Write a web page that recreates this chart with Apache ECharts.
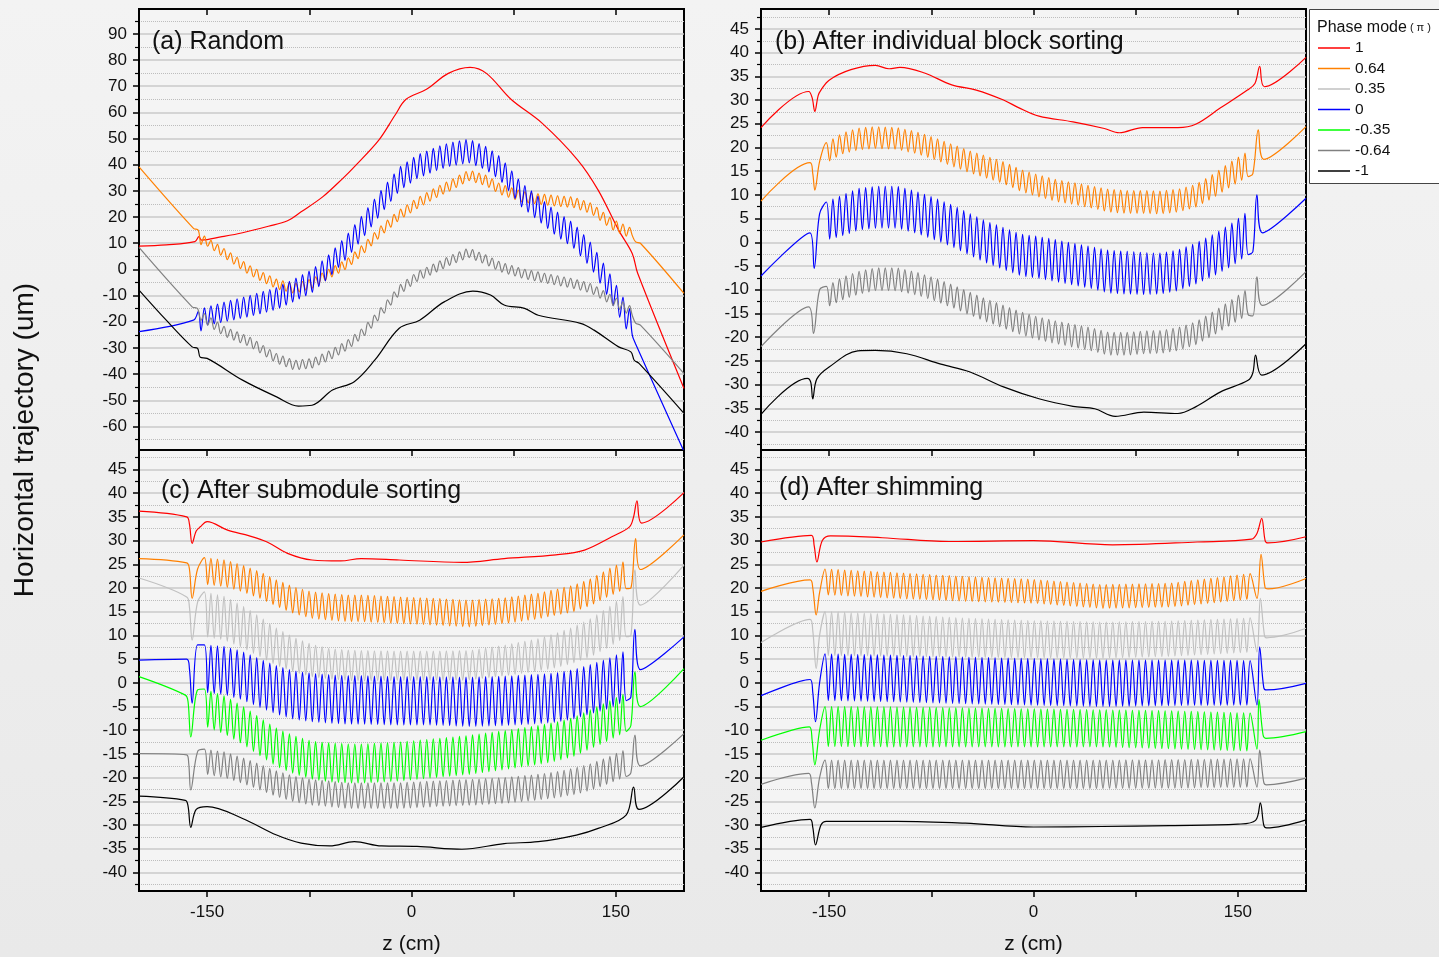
<!DOCTYPE html>
<html>
<head>
<meta charset="utf-8">
<script src="https://cdn.jsdelivr.net/npm/echarts@6/dist/echarts.min.js"></script>
<style>
    html, body { margin: 0; padding: 0; background: #ededed; }
    #chart { width: 1439px; height: 957px; }
</style>
</head>
<body>
<div id="chart"></div>
<script>
// tick labels
const zTicks = [-150, -75, 0, 75, 150];
const zLabels = [-150, 0, 150];
const aMajor = [-60, -50, -40, -30, -20, -10, 0, 10, 20, 30, 40, 50, 60, 70, 80, 90];
const aMinor = [-65, -55, -45, -35, -25, -15, -5, 5, 15, 25, 35, 45, 55, 65, 75, 85, 95];
const bMajor = [-40, -35, -30, -25, -20, -15, -10, -5, 0, 5, 10, 15, 20, 25, 30, 35, 40, 45];
const bMinor = [-42.5, -37.5, -32.5, -27.5, -22.5, -17.5, -12.5, -7.5, -2.5, 2.5, 7.5, 12.5, 17.5, 22.5, 27.5, 32.5, 37.5, 42.5, 47.5];
const phaseNames = ['1', '0.64', '0.35', '0', '-0.35', '-0.64', '-1'];

// undulator period (cm): the oscillating trajectories have one wiggle per period
const period = 4.8;

// ---- (a) Random ----
const aRed = [[-200, 8.9], [-180, 9.4], [-159, 10.6], [-156, 12.5], [-154, 11.2], [-140, 12.4], [-124, 14], [-105, 16.5], [-91, 18.6], [-81, 22], [-65, 27.8], [-50, 35], [-42, 39.2], [-24, 49.4], [-12, 59], [-4, 65], [11, 68.8], [27, 74.9], [43, 77.2], [55, 74.9], [73, 65], [96, 55.8], [122, 41.8], [137, 30.3], [152, 15], [162, 6.1], [166, -1.5], [200, -45.5]];
const aBlack = [[-200, -7.9], [-180, -19.4], [-161, -29.6], [-157, -30.2], [-155, -33.6], [-150, -34], [-124, -42.3], [-99, -48.7], [-83, -52.2], [-73, -51.9], [-58, -46.1], [-42, -42.9], [-27, -34.7], [-9, -22.5], [6, -19.4], [24, -12.4], [45, -8.3], [58, -9.8], [68, -13.6], [83, -14.9], [93, -17.5], [124, -20.6], [134, -23.2], [152, -29.6], [161, -31.5], [163.5, -34.7], [167, -35.9], [200, -55]];
// z where the envelope (centre, half amplitude) of the wiggling curves was read
const aKnotZ = [-152, -137, -119, -99, -86, -73, -60, -47, -35, -22, -9, 4, 19, 29, 42, 55, 65, 81, 93, 106, 119, 132, 147, 160];
const aOrangeIn = [[-200, 39.2], [-160, 15.7], [-156.5, 15], [-154.5, 9.5]];
const aOrangeBand = [[11.2, 1.5], [6.1, 1.7], [-0.3, 1.8], [-5.6, 1.8], [-7.3, 1.8], [-5.4, 1.8], [-1.5, 1.8], [2.3, 1.8], [8, 1.9], [15, 1.9], [20.8, 1.9], [25.2, 2], [29.7, 2], [32.2, 2], [36, 2], [33.9, 2], [30.7, 2], [27.8, 2], [26.9, 2], [26.2, 2], [25.6, 2], [23.3, 2], [17.3, 2], [14.1, 2]];
const aOrangeOut = [[162, 13], [164.5, 10.5], [168, 10], [200, -9.2]];
const aBlueIn = [[-200, -23.8], [-160, -19.4], [-156.5, -16], [-154.5, -23.5]];
const aBlueBand = [[-18.1, 3.4], [-16.2, 3.8], [-14, 4], [-11.1, 4.2], [-7.9, 4.3], [-4.5, 4.4], [1.5, 4.4], [9, 4.5], [17, 4.5], [26, 4.5], [34.5, 4.5], [39.2, 4.5], [42.4, 4.5], [44, 4.5], [45.3, 4.5], [42.4, 4.5], [38.6, 4.5], [28.4, 4.6], [23.3, 4.6], [17.6, 4.7], [12.9, 4.8], [5.2, 4.8], [-7.9, 5], [-20, 5]];
const aBlueOut = [[162, -25], [164.5, -28.5], [199.5, -69]];
const aGrayIn = [[-200, 8.4], [-161, -14.3], [-157, -15], [-154.5, -19.5]];
const aGrayBand = [[-18.7, 1.8], [-23.8, 1.8], [-27.6, 1.8], [-34, 1.8], [-36.6, 1.8], [-35.9, 1.8], [-32.8, 1.8], [-28.9, 1.8], [-23.8, 1.8], [-16.2, 1.8], [-7.9, 1.8], [-2.8, 1.8], [1, 1.8], [3.6, 1.8], [6.4, 1.8], [3.6, 1.8], [1, 1.8], [-1.5, 1.8], [-2.8, 1.8], [-4.1, 1.8], [-5.4, 1.8], [-7.3, 1.8], [-11.7, 1.8], [-15.6, 1.8]];
const aGrayOut = [[162, -17.5], [164.5, -20.5], [168, -21.3], [200, -39.8]];

// ---- (b) After individual block sorting ----
const bRed = [[-200, 24.2], [-165, 31.8], [-162.5, 30.5], [-160.5, 27.6], [-158, 31], [-156, 32.1], [-150, 34.2], [-134, 36.4], [-116, 37.3], [-106, 36.6], [-98, 36.9], [-80, 35.7], [-60, 33.2], [-42, 32.1], [-22, 30], [-11, 28.4], [4, 26.6], [29, 25.4], [52, 24], [63, 23.1], [80, 24.2], [106, 24.2], [119, 24.9], [137, 28.3], [157, 32.1], [162.5, 33.5], [166, 37.1], [169.5, 32.8], [200, 39]];
const bBlack = [[-200, -36.3], [-166, -28.7], [-163.5, -29.5], [-162, -33], [-159, -28.8], [-150, -26.3], [-129, -22.9], [-116, -22.8], [-93, -23.5], [-68, -25.7], [-47, -27.3], [-22, -30.5], [4, -33], [29, -34.6], [45, -35.1], [60, -36.7], [81, -35.8], [106, -36.1], [119, -34.7], [137, -31.6], [157.5, -29.1], [161, -27.5], [163, -23.8], [167.5, -28], [200, -21.4]];
const bKnotZ = [-152, -140, -128, -116, -100, -86, -73, -60, -47, -35, -22, -9, 4, 17, 29, 42, 55, 68, 81, 93, 106, 119, 132, 145, 158];
const bOrangeIn = [[-200, 8.7], [-164, 16.8], [-162, 14.5], [-160.5, 11], [-157, 17]];
const bOrangeBand = [[18.9, 2.1], [20.9, 2.2], [21.8, 2.3], [22.1, 2.3], [21.9, 2.3], [21, 2.3], [19.8, 2.3], [18.4, 2.3], [17, 2.3], [15.9, 2.3], [14.7, 2.3], [13, 2.3], [11.9, 2.3], [10.9, 2.3], [10.3, 2.3], [9.6, 2.3], [8.8, 2.4], [8.5, 2.4], [8.5, 2.4], [8.4, 2.4], [8.8, 2.4], [9.8, 2.4], [11.9, 2.5], [14.4, 2.6], [16.6, 2.7]];
const bOrangeOut = [[161, 14.5], [165, 23.7], [169, 17.5], [200, 24.4]];
const bBlueIn = [[-200, -7.1], [-164, 2], [-161, -5.5], [-157, 6]];
const bBlueBand = [[4.5, 4], [5.7, 4.3], [7, 4.4], [7.4, 4.4], [7.4, 4.4], [6.3, 4.4], [5, 4.4], [3.5, 4.4], [1.7, 4.4], [0.1, 4.4], [-1.3, 4.4], [-2.7, 4.4], [-3.2, 4.4], [-3.9, 4.4], [-4.6, 4.4], [-5.3, 4.4], [-6.2, 4.5], [-6.4, 4.5], [-6.6, 4.4], [-6.6, 4.3], [-5.9, 4.3], [-4.5, 4.3], [-2.7, 4.4], [-0.6, 4.5], [2.1, 4.6]];
const bBlueOut = [[161, -2], [164, 10], [168, 2], [200, 9.3]];
const bGrayIn = [[-200, -22], [-165, -13.6], [-161.5, -19.2], [-157, -10]];
const bGrayBand = [[-11.5, 2.2], [-9.7, 2.4], [-8.5, 2.4], [-7.8, 2.4], [-7.8, 2.4], [-8.7, 2.4], [-9.9, 2.4], [-11.3, 2.4], [-12.9, 2.4], [-14.3, 2.4], [-15.7, 2.4], [-17.1, 2.4], [-18.2, 2.4], [-19, 2.4], [-19.7, 2.4], [-20.4, 2.4], [-21.4, 2.4], [-21.4, 2.4], [-21.1, 2.4], [-21, 2.4], [-20.4, 2.4], [-19.2, 2.4], [-17.1, 2.5], [-14.8, 2.6], [-12.4, 2.8]];
const bGrayOut = [[161, -15.5], [164, -7.3], [168, -13.3], [200, -6.2]];

// ---- (c) After submodule sorting ----
const cRed = [[-200, 36.2], [-165, 35], [-163, 33.5], [-161, 29.4], [-158, 32], [-155, 32.9], [-150, 34], [-135, 32.2], [-119, 31], [-106, 29.7], [-91, 27.3], [-73, 25.9], [-52, 25.7], [-37, 26.2], [-9, 25.9], [37, 25.4], [68, 26.2], [106, 27], [127, 28], [147, 30.8], [160, 32.9], [163, 35], [165.5, 38.4], [169, 33.7], [200, 40.1]];
const cBlack = [[-200, -23.9], [-166, -24.8], [-164, -26], [-162, -30.5], [-158, -26.7], [-150, -26.1], [-124, -28.6], [-99, -32.1], [-81, -33.8], [-60, -34.4], [-42, -33.5], [-22, -34.4], [4, -34.5], [37, -35.1], [68, -33.9], [93, -33.5], [121, -32.1], [137, -30.7], [157.5, -27.9], [163, -22], [167, -26.7], [200, -19.8]];
const cKnotZ = [-152, -137, -124, -111, -99, -86, -73, -60, -47, -35, -9, 17, 42, 68, 93, 106, 119, 132, 145, 158];
const cOrangeIn = [[-200, 26.2], [-165, 25.3], [-163, 24], [-161, 17.8], [-157, 24]];
const cOrangeBand = [[23.6, 2.8], [23.1, 2.8], [22, 2.8], [20.6, 2.8], [18.9, 2.8], [17.4, 2.8], [16.4, 2.8], [16, 2.8], [15.7, 2.8], [15.7, 2.8], [15.3, 2.8], [15, 2.8], [14.6, 2.8], [15.2, 2.7], [16.2, 2.7], [17, 2.7], [17.8, 2.8], [19.2, 2.8], [21.2, 2.9], [22.9, 3]];
const cOrangeOut = [[161, 20], [164.5, 30.4], [168, 23.9], [200, 31.2]];
const cLgrayIn = [[-200, 22.1], [-165, 18.1], [-163, 16], [-161, 9], [-157, 17]];
const cLgrayBand = [[14.5, 4.7], [13.6, 4.6], [11.8, 4.4], [9.7, 4.2], [7.6, 3.9], [5.9, 3.6], [4.7, 3.4], [4, 3.2], [3.7, 3.2], [3.6, 3.2], [3.6, 3.1], [3.6, 3.1], [3.7, 3.1], [4.7, 3.2], [5.9, 3.4], [6.8, 3.6], [8, 3.8], [9.6, 4], [11.8, 4.2], [14.3, 4.5]];
const cLgrayOut = [[161, 10], [164, 23.8], [168, 16.4], [200, 24.8]];
const cBlueIn = [[-200, 4.8], [-165, 5], [-163, 3], [-161, -4.3], [-157, 8]];
const cBlueBand = [[3, 5], [2.6, 5.1], [1.5, 5.1], [-0.1, 5.1], [-1.5, 5.1], [-2.6, 5.1], [-3.1, 5.1], [-3.4, 5.1], [-3.6, 5.1], [-3.6, 5.1], [-3.8, 5.1], [-3.8, 5.1], [-4, 5.2], [-3.8, 5.2], [-3.4, 5.2], [-3.1, 5.2], [-2.4, 5.2], [-1.3, 5.2], [-0.1, 5.3], [1.6, 5.3]];
const cBlueOut = [[161, -3], [164, 11.3], [168, 2.8], [200, 9.7]];
const cGreenIn = [[-200, 1.3], [-166, -2.6], [-164, -4], [-162, -11.4], [-157, -1.5]];
const cGreenBand = [[-5.2, 3.9], [-6.8, 4], [-8.9, 4], [-11.4, 4], [-13.6, 4], [-15.2, 4], [-16.3, 4], [-16.8, 4.1], [-17, 4.1], [-17, 4.1], [-16.6, 4.1], [-15.9, 4.1], [-15.2, 4.1], [-14.2, 4.1], [-13.1, 4.1], [-12.4, 4.1], [-11.4, 4.1], [-9.7, 4.1], [-8, 4.1], [-6.1, 4.1]];
const cGreenOut = [[161, -9], [164, 2.3], [168, -5], [200, 3]];
const cGrayIn = [[-200, -14.9], [-165, -15.2], [-163.5, -17], [-162, -22.6], [-157, -14.5]];
const cGrayBand = [[-16.6, 2.6], [-17.3, 2.7], [-18.5, 2.7], [-19.9, 2.7], [-21.3, 2.7], [-22.4, 2.7], [-23.1, 2.7], [-23.4, 2.7], [-23.8, 2.7], [-23.8, 2.7], [-23.8, 2.7], [-23.4, 2.7], [-23.1, 2.7], [-22.7, 2.7], [-22, 2.7], [-21.5, 2.7], [-20.8, 2.8], [-19.8, 2.8], [-18.4, 2.8], [-16.8, 2.9]];
const cGrayOut = [[161, -19], [164, -11], [168, -17.5], [200, -10.7]];

// ---- (d) After shimming ----
const dRed = [[-200, 29.7], [-163, 31.1], [-161, 29], [-159, 25.5], [-155, 30], [-149, 31], [-111, 30.6], [-62, 29.8], [0, 30], [58, 29.1], [120, 29.7], [160, 30.3], [164, 31.5], [167.5, 34.7], [170, 30], [172, 29.5], [200, 30.8]];
const dBlack = [[-200, -30.5], [-164, -28.8], [-162, -30.5], [-160, -34.2], [-156, -30], [-152, -29.2], [-100, -29.2], [-50, -29.6], [0, -30.4], [50, -30.3], [100, -30.1], [150, -29.8], [163, -29], [166.5, -25.3], [169, -30], [171, -30.6], [200, -28.9]];
const dKnotZ = [-153, -100, -50, 0, 50, 100, 161];
const dOrangeIn = [[-200, 19.3], [-164, 21.7], [-162, 20], [-159.5, 14.3], [-157, 19]];
const dOrangeBand = [[21.3, 2.7], [20.5, 2.7], [19.8, 2.6], [19.3, 2.5], [18.2, 2.5], [18.5, 2.5], [20.4, 2.7]];
const dOrangeOut = [[164, 17.8], [167, 27.1], [170, 20], [172, 19.8], [200, 22]];
const dLgrayIn = [[-200, 8.5], [-164, 13.4], [-162, 11], [-159.5, 3], [-157, 10]];
const dLgrayBand = [[10.4, 4.6], [10, 4.4], [9.5, 4.1], [9.2, 3.9], [9, 3.8], [9.3, 3.7], [10.1, 3.6]];
const dLgrayOut = [[164, 6.5], [166.5, 17.8], [169.5, 10], [171, 9.5], [200, 11.5]];
const dBlueIn = [[-200, -2.7], [-164, 0.7], [-162, -2], [-160, -8.2], [-157, 0]];
const dBlueBand = [[1.2, 4.9], [0.9, 4.9], [0.5, 4.9], [0.2, 4.9], [-0.1, 4.9], [0, 4.8], [0, 4.7]];
const dBlueOut = [[164, -4.7], [166, 7.6], [169, -1], [171, -1.5], [200, -0.1]];
const dGreenIn = [[-200, -12.1], [-164.5, -9.3], [-162.5, -12], [-160.5, -17.3], [-157, -10]];
const dGreenBand = [[-9.2, 4.2], [-9.3, 4.2], [-9.4, 4.1], [-9.5, 4], [-9.6, 3.9], [-9.9, 4], [-10.4, 4]];
const dGreenOut = [[164, -14], [165.5, -3.5], [168.5, -11], [170.5, -11.7], [200, -10.3]];
const dGrayIn = [[-200, -21.4], [-165, -19.1], [-163, -21], [-160.5, -26.4], [-157, -20]];
const dGrayBand = [[-19.3, 3], [-19.3, 3], [-19.3, 3], [-19.3, 3], [-19.3, 3], [-19.2, 3], [-19, 3]];
const dGrayOut = [[164, -22], [166, -14.2], [169, -21], [171, -21.5], [200, -20.1]];


const FONT = "'Liberation Sans', Arial, sans-serif";
const phaseColors = {
    '1': '#ff0000', '0.64': '#ff8000', '0.35': '#c0c0c0', '0': '#0000ff',
    '-0.35': '#00ff00', '-0.64': '#808080', '-1': '#000000'
};

// peaks and troughs, one each half period, taken from the read envelope
function wiggle(knotZ, band)
{
    let pts = [];
    let z0 = knotZ[0], z1 = knotZ[knotZ.length - 1];
    for (let k = 0; z0 + k * period / 2 <= z1 + 1e-9; k++)
    {
        let z = z0 + k * period / 2;
        let i = 0;
        while (i < knotZ.length - 2 && z > knotZ[i + 1]) i++;
        let t = (z - knotZ[i]) / (knotZ[i + 1] - knotZ[i]);
        let mid = band[i][0] + t * (band[i + 1][0] - band[i][0]);
        let amp = band[i][1] + t * (band[i + 1][1] - band[i][1]);
        pts.push([z, k % 2 === 0 ? mid + amp : mid - amp]);
    }
    return pts;
}

function curve(pre, knotZ, band, post)
{
    return pre.concat(wiggle(knotZ, band), post);
}

const panels = [
    {
        title: '(a) Random', left: 139, top: 9, min: -69, max: 99.5, major: aMajor, minor: aMinor,
        titleX: 152, titleY: 42, labels: false,
        curves: [
            ['1', aRed],
            ['0.64', curve(aOrangeIn, aKnotZ, aOrangeBand, aOrangeOut)],
            ['0', curve(aBlueIn, aKnotZ, aBlueBand, aBlueOut)],
            ['-0.64', curve(aGrayIn, aKnotZ, aGrayBand, aGrayOut)],
            ['-1', aBlack]
        ]
    },
    {
        title: '(b) After individual block sorting', left: 761, top: 9, min: -43.8, max: 49.2, major: bMajor, minor: bMinor,
        titleX: 775, titleY: 42, labels: false,
        curves: [
            ['1', bRed],
            ['0.64', curve(bOrangeIn, bKnotZ, bOrangeBand, bOrangeOut)],
            ['0', curve(bBlueIn, bKnotZ, bBlueBand, bBlueOut)],
            ['-0.64', curve(bGrayIn, bKnotZ, bGrayBand, bGrayOut)],
            ['-1', bBlack]
        ]
    },
    {
        title: '(c) After submodule sorting', left: 139, top: 450, min: -43.9, max: 49.1, major: bMajor, minor: bMinor,
        titleX: 161, titleY: 491, labels: true,
        curves: [
            ['1', cRed],
            ['0.64', curve(cOrangeIn, cKnotZ, cOrangeBand, cOrangeOut)],
            ['0.35', curve(cLgrayIn, cKnotZ, cLgrayBand, cLgrayOut)],
            ['0', curve(cBlueIn, cKnotZ, cBlueBand, cBlueOut)],
            ['-0.35', curve(cGreenIn, cKnotZ, cGreenBand, cGreenOut)],
            ['-0.64', curve(cGrayIn, cKnotZ, cGrayBand, cGrayOut)],
            ['-1', cBlack]
        ]
    },
    {
        title: '(d) After shimming', left: 761, top: 450, min: -43.9, max: 49.1, major: bMajor, minor: bMinor,
        titleX: 779, titleY: 488, labels: true,
        curves: [
            ['1', dRed],
            ['0.64', curve(dOrangeIn, dKnotZ, dOrangeBand, dOrangeOut)],
            ['0.35', curve(dLgrayIn, dKnotZ, dLgrayBand, dLgrayOut)],
            ['0', curve(dBlueIn, dKnotZ, dBlueBand, dBlueOut)],
            ['-0.35', curve(dGreenIn, dKnotZ, dGreenBand, dGreenOut)],
            ['-0.64', curve(dGrayIn, dKnotZ, dGrayBand, dGrayOut)],
            ['-1', dBlack]
        ]
    }
];

let grid = [], xAxis = [], yAxis = [], series = [];
let graphic = [];

panels.forEach(function (p, i)
{
    grid.push({
        left: p.left, top: p.top, width: 545, height: 441,
        show: true, backgroundColor: '#f4f4f4', borderColor: '#000', borderWidth: 2
    });
    // bottom axis
    xAxis.push({
        type: 'value', gridIndex: i, position: 'bottom', min: -200, max: 200,
        axisLine: {onZero: false, lineStyle: {color: '#000', width: 2}},
        axisTick: {show: p.labels, customValues: zTicks, length: 6, lineStyle: {color: '#000', width: 1.5}},
        axisLabel: {show: p.labels, customValues: zLabels, margin: 13, fontSize: 17, color: '#111', fontFamily: FONT},
        splitLine: {show: false},
        name: p.labels ? 'z (cm)' : '', nameLocation: 'middle', nameGap: 43,
        nameTextStyle: {fontSize: 21, color: '#111', fontFamily: FONT}
    });
    yAxis.push({
        type: 'value', gridIndex: i, position: 'left', min: p.min, max: p.max,
        axisLine: {onZero: false, lineStyle: {color: '#000', width: 2}},
        axisTick: {customValues: p.major, length: 6, lineStyle: {color: '#000', width: 1.5}},
        axisLabel: {customValues: p.major, margin: 12, fontSize: 17, color: '#111', fontFamily: FONT},
        splitLine: {show: true, lineStyle: {color: '#cacaca', width: 1.5}}
    });
    graphic.push({
        type: 'text', x: p.titleX, y: p.titleY, z: 50,
        style: {text: p.title, fontSize: 25, fontFamily: FONT, fill: '#111', align: 'left', verticalAlign: 'middle'}
    });
});

panels.forEach(function (p, i)
{
    // top axis, ticks only
    xAxis.push({
        type: 'value', gridIndex: i, position: 'top', min: -200, max: 200,
        axisLine: {onZero: false, lineStyle: {color: '#000', width: 2}},
        axisTick: {inside: true, customValues: zTicks, length: 6, lineStyle: {color: '#000', width: 1.5}},
        axisLabel: {show: false},
        splitLine: {show: false}
    });
    // minor ticks and dotted grid lines
    yAxis.push({
        type: 'value', gridIndex: i, position: 'left', min: p.min, max: p.max,
        axisLine: {show: false, onZero: false},
        axisTick: {customValues: p.minor, length: 4, lineStyle: {color: '#000', width: 1.2}},
        axisLabel: {show: false},
        splitLine: {show: true, lineStyle: {color: '#bdbdbd', width: 1, type: 'dotted'}}
    });
});

panels.forEach(function (p, i)
{
    p.curves.forEach(function (c)
    {
        series.push({
            name: c[0], type: 'line', xAxisIndex: i, yAxisIndex: i,
            data: c[1], showSymbol: false, symbol: 'none', smooth: 0.35,
            color: phaseColors[c[0]],
            lineStyle: {color: phaseColors[c[0]], width: 1.2},
            itemStyle: {color: phaseColors[c[0]]},
            z: 3, silent: true
        });
    });
});

graphic.push(
    {
        type: 'rect', z: 1,
        shape: {x: 1309.5, y: 9.5, width: 140, height: 174},
        style: {fill: '#ffffff', stroke: '#444', lineWidth: 1}
    },
    {
        type: 'text', x: 1317, y: 28, z: 50,
        style: {
            text: '{a|Phase mode}{b| ( π )}', fontFamily: FONT, fill: '#111', verticalAlign: 'middle',
            rich: {a: {fontSize: 16, fontFamily: FONT}, b: {fontSize: 11, fontFamily: FONT}}
        }
    },
    {
        type: 'text', x: 25, y: 440, rotation: Math.PI / 2, z: 50,
        style: {
            text: 'Horizontal trajectory (um)', fontSize: 28, fontFamily: FONT, fill: '#111',
            align: 'center', verticalAlign: 'middle'
        }
    }
);

let myChart = echarts.init(document.getElementById('chart'));

let option = {
    animation: false,
    backgroundColor: {
        type: 'linear', x: 0, y: 0, x2: 0, y2: 1,
        colorStops: [{offset: 0, color: '#f3f3f3'}, {offset: 1, color: '#e9e9e9'}]
    },
    legend: {
        data: phaseNames, orient: 'vertical', left: 1318, top: 40, padding: 0,
        icon: 'rect', itemWidth: 32, itemHeight: 1.5, itemGap: 4.5, z: 20,
        selectedMode: false,
        textStyle: {fontSize: 15.5, lineHeight: 15, color: '#111', fontFamily: FONT}
    },
    grid: grid,
    xAxis: xAxis,
    yAxis: yAxis,
    series: series,
    graphic: graphic
};

myChart.setOption(option);
</script>
</body>
</html>
